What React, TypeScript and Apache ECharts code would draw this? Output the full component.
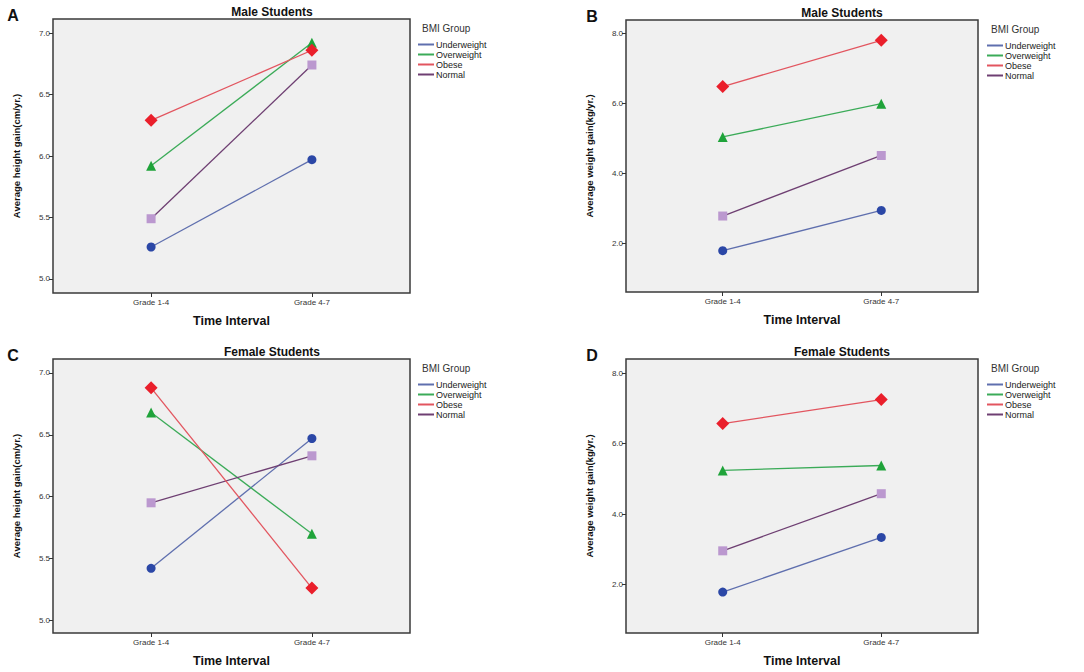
import React, { useEffect, useRef } from "react";
import * as echarts from "echarts";

const groups = ["Underweight", "Overweight", "Obese", "Normal"];
const intervals = ["Grade 1-4", "Grade 4-7"];

// panel A: male height gain (cm/yr.)
const maleHeight = {
  Underweight: [5.26, 5.97],
  Overweight: [5.92, 6.92],
  Obese: [6.29, 6.86],
  Normal: [5.49, 6.74],
};
// panel B: male weight gain (kg/yr.)
const maleWeight = {
  Underweight: [1.8, 2.95],
  Overweight: [5.05, 6.0],
  Obese: [6.49, 7.81],
  Normal: [2.79, 4.52],
};
// panel C: female height gain (cm/yr.)
const femaleHeight = {
  Underweight: [5.42, 6.47],
  Overweight: [6.68, 5.7],
  Obese: [6.88, 5.26],
  Normal: [5.95, 6.33],
};
// panel D: female weight gain (kg/yr.)
const femaleWeight = {
  Underweight: [1.79, 3.34],
  Overweight: [5.24, 5.38],
  Obese: [6.57, 7.25],
  Normal: [2.96, 4.58],
};

const heightTicks = [5.0, 5.5, 6.0, 6.5, 7.0];
const weightTicks = [2.0, 4.0, 6.0, 8.0];

const FONT = "'Liberation Sans', Arial, sans-serif";

const lineColors: Record<string, string> = {
  Underweight: "#5f6fae",
  Overweight: "#3bab58",
  Obese: "#e2555f",
  Normal: "#6e3f72",
};
const markerColors: Record<string, string> = {
  Underweight: "#2b47a6",
  Overweight: "#1fa33a",
  Obese: "#ea1f2b",
  Normal: "#bb98cf",
};
const markerShapes: Record<string, string> = {
  Underweight: "circle",
  Overweight: "triangle",
  Obese: "diamond",
  Normal: "rect",
};
const markerSizes: Record<string, number> = {
  Underweight: 9,
  Overweight: 10,
  Obese: 13,
  Normal: 9,
};

const panels = [
  { letter: "A", title: "Male Students", data: maleHeight, ticks: heightTicks, min: 4.886, max: 7.114, yName: "Average height gain(cm/yr.)", grid: { left: 53, top: 19, width: 357, height: 274 }, titleX: 272, letterX: 13, legendX: 413 },
  { letter: "B", title: "Male Students", data: maleWeight, ticks: weightTicks, min: 0.62, max: 8.39, yName: "Average weight gain(kg/yr.)", grid: { left: 626, top: 20, width: 352, height: 272 }, titleX: 842, letterX: 592, legendX: 982 },
  { letter: "C", title: "Female Students", data: femaleHeight, ticks: heightTicks, min: 4.897, max: 7.113, yName: "Average height gain(cm/yr.)", grid: { left: 53, top: 359, width: 357, height: 274 }, titleX: 272, letterX: 13, legendX: 413 },
  { letter: "D", title: "Female Students", data: femaleWeight, ticks: weightTicks, min: 0.63, max: 8.4, yName: "Average weight gain(kg/yr.)", grid: { left: 626, top: 359, width: 352, height: 274 }, titleX: 842, letterX: 592, legendX: 982 },
];

export default function App() {
  const ref = useRef<HTMLDivElement>(null);
  useEffect(() => {
    if (!ref.current) return;
    const chart = echarts.init(ref.current, undefined, { renderer: "svg" });

    const grids: any[] = [];
    const xAxes: any[] = [];
    const yAxes: any[] = [];
    const series: any[] = [];
    const legends: any[] = [];
    const graphics: any[] = [];

    panels.forEach((p, i) => {
      grids.push({
        ...p.grid,
        show: true,
        backgroundColor: "#f0f0f0",
        borderColor: "#3a3a3a",
        borderWidth: 1.5,
      });
      xAxes.push({
        type: "value",
        gridIndex: i,
        min: -0.61,
        max: 1.61,
        name: "Time Interval",
        nameLocation: "middle",
        nameGap: 21,
        nameTextStyle: { fontFamily: FONT, fontWeight: "bold", fontSize: 12.5, color: "#111" },
        axisLine: { show: false, onZero: false },
        splitLine: { show: false },
        axisTick: { show: true, customValues: [0, 1], length: 4, lineStyle: { color: "#333" } },
        axisLabel: {
          customValues: [0, 1],
          formatter: (v: number) => intervals[Math.round(v)] ?? "",
          fontFamily: FONT,
          fontSize: 8,
          color: "#333",
          margin: 5,
        },
      });
      yAxes.push({
        type: "value",
        gridIndex: i,
        min: p.min,
        max: p.max,
        name: p.yName,
        nameLocation: "middle",
        nameGap: 32,
        nameTextStyle: { fontFamily: FONT, fontWeight: "bold", fontSize: 9.5, color: "#111" },
        axisLine: { show: false, onZero: false },
        splitLine: { show: false },
        axisTick: { show: true, customValues: p.ticks, length: 4, lineStyle: { color: "#333" } },
        axisLabel: {
          customValues: p.ticks,
          formatter: (v: number) => v.toFixed(1),
          fontFamily: FONT,
          fontSize: 8,
          color: "#333",
          margin: 3,
        },
      });
      groups.forEach((g) => {
        const vals = (p.data as any)[g] as number[];
        series.push({
          type: "line",
          name: g,
          xAxisIndex: i,
          yAxisIndex: i,
          data: vals.map((v, k) => [k, v]),
          symbol: markerShapes[g],
          symbolSize: markerSizes[g],
          lineStyle: { color: lineColors[g], width: 1.3 },
          itemStyle: { color: markerColors[g] },
          z: g === "Obese" ? 5 : 3,
        });
      });
      legends.push({
        orient: "vertical",
        left: p.legendX,
        top: p.grid.top + 16,
        itemWidth: 16,
        itemHeight: 2,
        itemGap: 1,
        icon: "rect",
        selectedMode: false,
        textStyle: { fontFamily: FONT, fontSize: 9, color: "#222", padding: [0, 0, 0, -3], lineHeight: 8 },
        data: groups.map((g) => ({ name: g, itemStyle: { color: lineColors[g] } })),
      });
      graphics.push({
        type: "text",
        left: p.legendX + 9,
        top: p.grid.top + 4,
        style: { text: "BMI Group", font: `10px ${FONT}`, fill: "#333" },
      });
      graphics.push({
        type: "text",
        x: p.titleX,
        y: p.grid.top - 7,
        style: { text: p.title, font: `bold 12px ${FONT}`, fill: "#111", textAlign: "center", textVerticalAlign: "middle" },
      });
      graphics.push({
        type: "text",
        x: p.letterX,
        y: p.grid.top - 4,
        style: { text: p.letter, font: `bold 16px ${FONT}`, fill: "#111", textAlign: "center", textVerticalAlign: "middle" },
      });
    });

    chart.setOption({
      animation: false,
      backgroundColor: "#ffffff",
      grid: grids,
      xAxis: xAxes,
      yAxis: yAxes,
      series,
      legend: legends,
      graphic: graphics,
    });
    return () => chart.dispose();
  }, []);
  return (
    <div
      ref={ref}
      style={{ position: "absolute", left: 0, top: 0, width: 1084, height: 672 }}
    />
  );
}
